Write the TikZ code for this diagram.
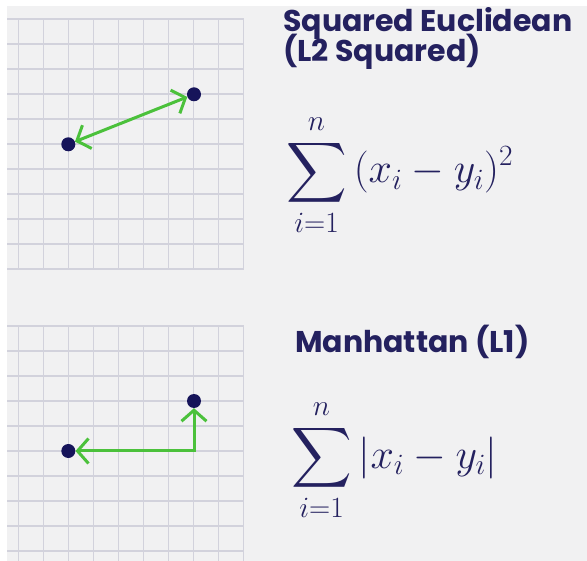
\RequirePackage{fix-cm}
\documentclass[tikz,border=0pt]{standalone}
\usepackage{amsmath}
\DeclareFontShape{OMX}{cmex}{m}{n}{<->cmex10}{}
\usepackage[no-math]{fontspec}
\newfontfamily\popp{Poppins}
\usetikzlibrary{arrows.meta}
\definecolor{bgc}{HTML}{F1F1F2}
\definecolor{gridc}{HTML}{D2D2DC}
\definecolor{navy}{HTML}{24215F}
\definecolor{dotc}{HTML}{16145A}
\definecolor{arrowg}{HTML}{4BC13B}
\begin{document}
\begin{tikzpicture}[x=1pt,y=-1pt,
  gridline/.style={draw=gridc,line width=1.3pt},
  title/.style={inner sep=0pt,anchor=base west,text=navy,font=\popp\bfseries\fontsize{30}{36}\selectfont},
  formula/.style={inner sep=0pt,anchor=base west,text=navy,font=\fontsize{42}{50}\selectfont},
  pt/.style={circle,fill=dotc,inner sep=0pt,minimum size=14pt},
  conn/.style={draw=arrowg,line width=3pt,{Straight Barb[length=11pt,width=25pt,line width=3pt]}-{Straight Barb[length=11pt,width=25pt,line width=3pt]}}
]
\useasboundingbox (0,0) rectangle (587,561);
\fill[white] (0,0) rectangle (587,561);
\fill[bgc] (7,6) rectangle (587,561);
% top grid
\foreach \y in {19,44,...,269} \draw[gridline] (7,\y) -- (244.3,\y);
\foreach \x in {18.3,43.3,...,244.3} \draw[gridline] (\x,19) -- (\x,269.3);
% bottom grid
\foreach \y in {326,351,...,551} \draw[gridline] (7,\y) -- (244.3,\y);
\foreach \x in {18.3,43.3,...,244.3} \draw[gridline] (\x,326) -- (\x,561);
% top points
\node[pt] (p1) at (194,94.3) {};
\node[pt] (p2) at (68.3,144.3) {};
\draw[conn] (p1) -- (p2);
% bottom points
\node[pt] (q1) at (194,401) {};
\node[pt] (q2) at (68.3,451) {};
\draw[conn,line join=miter] (q1) |- (q2);
% texts
\node[title] (t1) at (283,32) {Squared Euclidean};
\node[title] (t2) at (283,62) {(L2 Squared)};
\node[formula] (f1) at (286,183) {$\displaystyle\sum_{i=1}^{n}\,(x_i-y_i)^2$};
\node[title] (t3) at (295,353) {Manhattan (L1)};
\node[formula] (f2) at (291,468) {$\displaystyle\sum_{i=1}^{n}\,\lvert x_i-y_i\rvert$};
\end{tikzpicture}
\end{document}
